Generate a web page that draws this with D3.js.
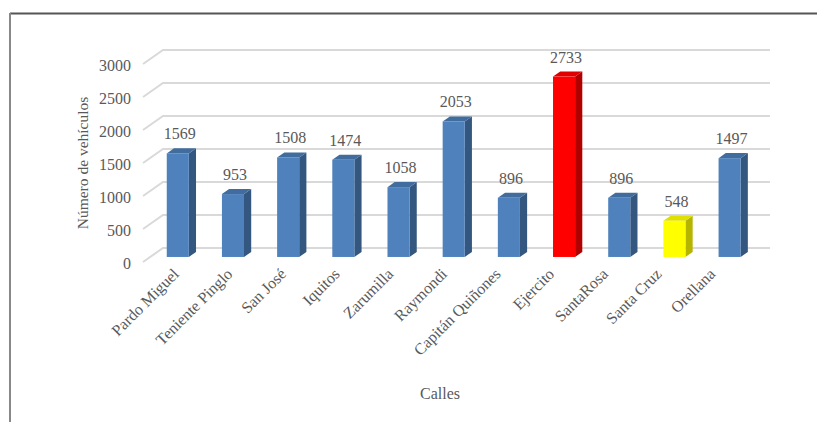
<!DOCTYPE html>
<html>
<head>
<meta charset="utf-8">
<script src="https://cdn.jsdelivr.net/npm/d3@7"></script>
<style>
  html, body { margin: 0; padding: 0; background: #fff; }
  svg { display: block; }
  text { font-family: "Liberation Serif", "Times New Roman", serif; fill: #595959; }
</style>
</head>
<body>
<svg id="chart" width="817" height="422"></svg>
<script>
// Vehicle counts per street
const categories = ["Pardo Miguel", "Teniente Pinglo", "San José", "Iquitos", "Zarumilla",
  "Raymondi", "Capitán Quiñones", "Ejercito", "SantaRosa", "Santa Cruz", "Orellana"];
const vehicles = [1569, 953, 1508, 1474, 1058, 2053, 896, 2733, 896, 548, 1497];
const yTicks = [0, 500, 1000, 1500, 2000, 2500, 3000];
const xTitle = "Calles";
const yTitle = "Número de vehículos";

// face colours: [front, side, top]
const palette = {
  blue:   ["#4F81BD", "#34577F", "#416C9E"],
  red:    ["#FF0000", "#B00000", "#E00000"],
  yellow: ["#FFFF00", "#B5B500", "#E0E000"]
};
const barColour = c => c === "Ejercito" ? palette.red : c === "Santa Cruz" ? palette.yellow : palette.blue;

const svg = d3.select("#chart");

// frame
svg.append("line").attr("x1", 10).attr("x2", 817).attr("y1", 13.5).attr("y2", 13.5)
  .attr("stroke", "#555").attr("stroke-width", 2);
svg.append("line").attr("x1", 10).attr("x2", 10).attr("y1", 13).attr("y2", 422)
  .attr("stroke", "#888").attr("stroke-width", 2);

// front plane of the 3D floor
const x = d3.scaleBand().domain(categories).range([143, 750]);
// category labels sit on a slightly narrower band (perspective of the front edge)
const xLabel = d3.scaleBand().domain(categories).range([153, 743]);
const y = d3.scaleLinear().domain([0, 3000]).range([262, 64]);
const depth = { dx: 20, dy: -14 };       // floor depth vector
const barFront = 0.36, barDepth = 0.36; // position of bars within the depth

// gridlines: diagonal on the side wall, horizontal on the back wall
const grid = svg.append("g").attr("stroke", "#D9D9D9").attr("stroke-width", 2).attr("fill", "none");
yTicks.forEach(v => {
  const y0 = y(v);
  grid.append("path").attr("d",
    `M143,${y0} L${143 + depth.dx},${y0 + depth.dy} L${750 + depth.dx},${y0 + depth.dy}`);
});

// y tick labels
svg.append("g").selectAll("text").data(yTicks).join("text")
  .attr("x", 131).attr("y", d => y(d) + 1)
  .attr("text-anchor", "end").attr("dominant-baseline", "central")
  .attr("font-size", 16)
  .text(d => d);

// 3D bars
const bw = x.bandwidth() * 0.4;
const fx = barFront * depth.dx, fy = barFront * depth.dy;
const ddx = barDepth * depth.dx, ddy = barDepth * depth.dy;

const bars = svg.append("g").selectAll("g").data(categories.map((c, i) => ({ c, v: vehicles[i] }))).join("g");
bars.each(function (d) {
  const g = d3.select(this);
  const cols = barColour(d.c);
  const x0 = x(d.c) + (x.bandwidth() - bw) / 2 + fx;
  const x1 = x0 + bw;
  const yb = y(0) + fy;
  const yt = y(d.v) + fy;
  // side face
  g.append("path").attr("fill", cols[1])
    .attr("d", `M${x1},${yb} L${x1 + ddx},${yb + ddy} L${x1 + ddx},${yt + ddy} L${x1},${yt} Z`);
  // top face
  g.append("path").attr("fill", cols[2])
    .attr("d", `M${x0},${yt} L${x1},${yt} L${x1 + ddx},${yt + ddy} L${x0 + ddx},${yt + ddy} Z`);
  // front face
  g.append("rect").attr("fill", cols[0])
    .attr("x", x0).attr("y", yt).attr("width", bw).attr("height", yb - yt);
  // value label
  g.append("text").attr("x", (x0 + x1) / 2 + 2).attr("y", yt + ddy - 9)
    .attr("text-anchor", "middle").attr("font-size", 16).attr("fill", "#404040")
    .text(d.v);
});

// category labels, rotated
svg.append("g").selectAll("text").data(categories).join("text")
  .attr("transform", d => `translate(${xLabel(d) + xLabel.bandwidth() / 2},${275}) rotate(-45)`)
  .attr("text-anchor", "end").attr("font-size", 16)
  .text(d => d);

// axis titles
svg.append("text").attr("x", 440).attr("y", 399).attr("text-anchor", "middle")
  .attr("font-size", 16).text(xTitle);
svg.append("text").attr("transform", "translate(88,163) rotate(-90)")
  .attr("text-anchor", "middle").attr("font-size", 15.5).text(yTitle);
</script>
</body>
</html>
